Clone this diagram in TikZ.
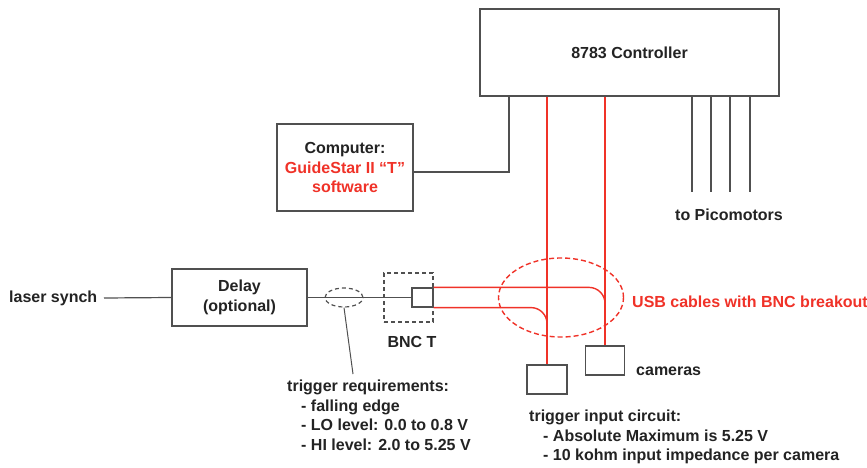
\documentclass[tikz,border=0pt]{standalone}
\usepackage{fontspec}
\setmainfont{Liberation Sans}
\usetikzlibrary{shapes.geometric}
\definecolor{ln}{RGB}{80,80,80}
\definecolor{rd}{RGB}{240,50,40}
\definecolor{tx}{RGB}{35,35,35}
\tikzset{
  box/.style={draw=ln, line width=1.2pt, rectangle, inner sep=0pt},
  wire/.style={draw=ln, line width=1.2pt},
  rwire/.style={draw=rd, line width=1.4pt},
  dsh/.style={dash pattern=on 4pt off 3pt},
  lbl/.style={text=tx, font=\fontsize{16}{19.5}\selectfont\bfseries, inner sep=0pt},
}
\begin{document}
\begin{tikzpicture}[x=1pt,y=-1pt]
\useasboundingbox[fill=white] (0,0) rectangle (867,468);
% boxes
\node[box, minimum width=299pt, minimum height=87pt, lbl] (ctrl) at (629.5,52.5) {8783 Controller};
\node[box, minimum width=136pt, minimum height=87pt, lbl, align=center] (comp) at (345,167.5)
  {Computer:\\\textcolor{rd}{GuideStar II “T”}\\\textcolor{rd}{software}};
\node[box, minimum width=135pt, minimum height=57pt, lbl, align=center] (delay) at (239.5,297.5) {Delay\\(optional)};
\node[box, dsh, minimum width=49pt, minimum height=49pt] (bnc) at (408.5,297.5) {};
\node[box, minimum width=21pt, minimum height=19pt] (conn) at (422.5,297.5) {};
\node[box, minimum width=40pt, minimum height=29pt] (cam1) at (547,379.5) {};
\node[box, minimum width=39pt, minimum height=29pt] (cam2) at (605,360.5) {};
\node[draw=ln, dsh, line width=1.2pt, ellipse, minimum width=38pt, minimum height=19pt, inner sep=0pt] (trig) at (344,297.5) {};
\node[draw=rd, dash pattern=on 5pt off 3pt, line width=1.4pt, ellipse, minimum width=125pt, minimum height=79pt, inner sep=0pt] (usb) at (561,297.5) {};
% labels
\node[lbl, anchor=west] (laser) at (9,298) {laser synch};
\node[lbl] (bnclbl) at (412,342) {BNC T};
\node[lbl, anchor=west] (pico) at (675,215) {to Picomotors};
\node[lbl, anchor=west, text=rd] (usblbl) at (632,302) {USB cables with BNC breakout};
\node[lbl, anchor=west] (camlbl) at (636,371) {cameras};
\node[lbl, anchor=north west, align=left] (req) at (287,380)
  {trigger requirements:\\\hspace*{14pt}- falling edge\\\hspace*{14pt}- LO level: 0.0 to 0.8 V\\\hspace*{14pt}- HI level: 2.0 to 5.25 V};
\node[lbl, anchor=north west, align=left] (inp) at (529,410)
  {trigger input circuit:\\\hspace*{14pt}- Absolute Maximum is 5.25 V\\\hspace*{14pt}- 10 kohm input impedance per camera};
% coordinates
\coordinate (laserend) at (104,298);
\coordinate (leadend) at (353,374);
\coordinate (compout) at (413,172);
\coordinate (p1) at (692,192);
\coordinate (p2) at (711,192);
\coordinate (p3) at (730,192);
\coordinate (p4) at (750,192);
% black wires
\draw[wire] (laserend) -- (delay.west);
\draw[wire] (delay.east) -- (conn.west);
\draw[wire, line width=1pt] (trig.south) -- (leadend);
\draw[wire] (compout) -| (ctrl.south -| 509,0);
\foreach \p in {p1,p2,p3,p4}{\draw[wire] (ctrl.south -| \p) -- (\p);}
% red wires
\draw[rwire] (ctrl.south -| cam1.north) -- (cam1.north);
\draw[rwire] (ctrl.south -| cam2.north) -- (cam2.north);
\draw[rwire, rounded corners=16pt] (conn.north east) -- (conn.north east -| cam2.north) -- ([yshift=-30pt]conn.north east -| cam2.north);
\draw[rwire, rounded corners=16pt] (conn.south east) -- (conn.south east -| cam1.north) -- ([yshift=-30pt]conn.south east -| cam1.north);
\end{tikzpicture}
\end{document}
